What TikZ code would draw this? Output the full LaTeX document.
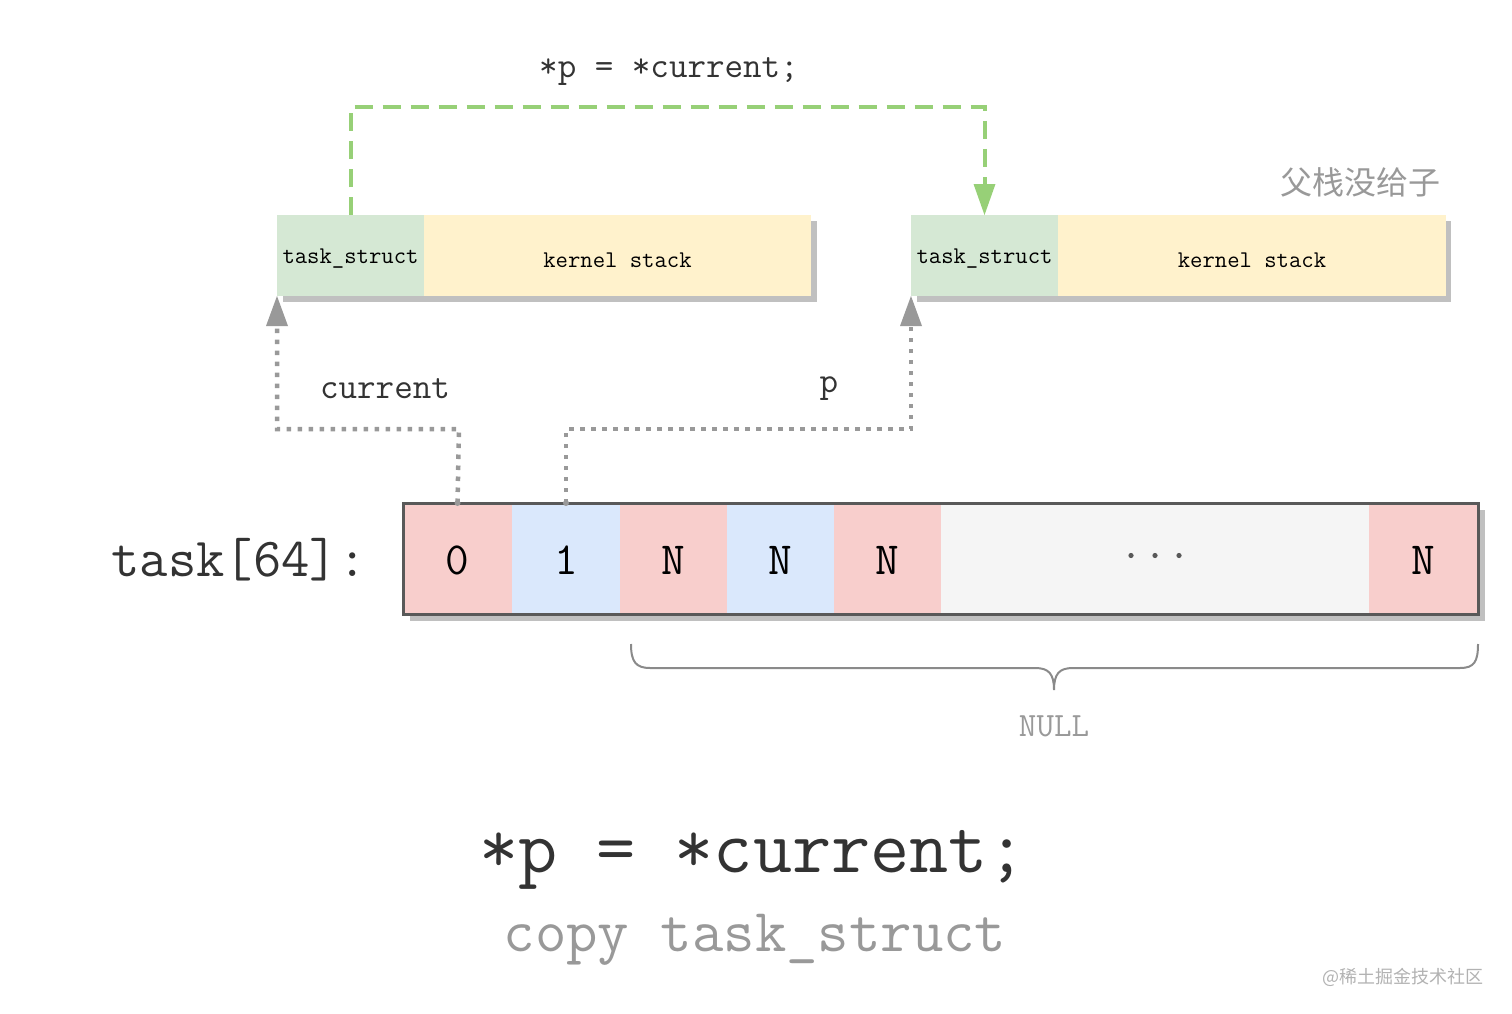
\documentclass[tikz,border=0pt]{standalone}
\usepackage{fontspec}
\setmainfont{Liberation Serif}
\newfontfamily\cjk{Noto Sans CJK SC}
\usetikzlibrary{arrows.meta}
\definecolor{tsgreen}{HTML}{D5E8D4}
\definecolor{ksyellow}{HTML}{FFF2CC}
\definecolor{cpink}{HTML}{F8CECC}
\definecolor{cblue}{HTML}{DAE8FC}
\definecolor{cgray}{HTML}{F5F5F5}
\definecolor{shad}{HTML}{C0C0C0}
\definecolor{arrgreen}{HTML}{97D077}
\definecolor{dotgray}{HTML}{999999}
\definecolor{txtdark}{HTML}{333333}
\definecolor{txtgray}{HTML}{999999}
\newcommand{\fs}[1]{\fontsize{#1}{#1}\selectfont}
\tikzset{
  cellbox/.style={draw=none, inner sep=0pt, outer sep=0pt, minimum height=#1},
  monotext/.style={font=\ttfamily\fs{24}, text=black},
  dotline/.style={draw=dotgray, line width=4.5pt, dash pattern=on 4.5pt off 6.5pt},
}
\begin{document}
\begin{tikzpicture}[x=1pt,y=-1pt]
\useasboundingbox (0,0) rectangle (1512,1014);
% ---------- top boxes ----------
\fill[shad] (283,221) rectangle (817,302);
\fill[shad] (917,221) rectangle (1451,302);
\node[cellbox=81pt, minimum width=147pt, fill=tsgreen, anchor=north west] (ts1) at (277,215) {};
\node[cellbox=81pt, minimum width=387pt, fill=ksyellow, anchor=north west] (ks1) at (424,215) {};
\node[cellbox=81pt, minimum width=147pt, fill=tsgreen, anchor=north west] (ts2) at (911,215) {};
\node[cellbox=81pt, minimum width=388pt, fill=ksyellow, anchor=north west] (ks2) at (1058,215) {};
\node[monotext] (ts1t) at ([yshift=-3pt]ts1.center) {task\_struct};
\node[monotext] (ks1t) at ([yshift=-5pt]ks1.center) {kernel stack};
\node[monotext] (ts2t) at ([yshift=-3pt]ts2.center) {task\_struct};
\node[monotext] (ks2t) at ([yshift=-5pt]ks2.center) {kernel stack};
% labels
\node[font=\ttfamily\fs{36}, text=txtdark] (lbl1) at (669,72) {*p = *current;};
\node[font=\cjk\fs{32}, text=txtgray] (lbl2) at (1360,182) {父栈没给子};
\node[font=\ttfamily\fs{36}, text=txtdark] (lblc) at (385,389) {current};
\node[font=\ttfamily\fs{36}, text=txtdark] (lblp) at (829,389) {p};
% ---------- array ----------
\fill[shad] (410,510) rectangle (1485,621);
\fill[white] (403,503) rectangle (1478,614);
\node[cellbox=108pt, minimum width=109pt, fill=cpink, anchor=north west] (c0) at (403,504.5) {};
\node[cellbox=108pt, minimum width=108pt, fill=cblue, anchor=north west] (c1) at (512,504.5) {};
\node[cellbox=108pt, minimum width=107pt, fill=cpink, anchor=north west] (c2) at (620,504.5) {};
\node[cellbox=108pt, minimum width=107pt, fill=cblue, anchor=north west] (c3) at (727,504.5) {};
\node[cellbox=108pt, minimum width=107pt, fill=cpink, anchor=north west] (c4) at (834,504.5) {};
\node[cellbox=108pt, minimum width=428pt, fill=cgray, anchor=north west] (c5) at (941,504.5) {};
\node[cellbox=108pt, minimum width=109pt, fill=cpink, anchor=north west] (c6) at (1369,504.5) {};
\foreach \c/\t in {c0/0,c1/1,c2/N,c3/N,c4/N,c6/N}
  \node[font=\ttfamily\fs{46}] (\c t) at ([yshift=-2pt]\c.center) {\t};
\foreach \dx in {-24,0,24} \fill[black!65] ([xshift=\dx pt, yshift=3pt]c5.center) circle (2.6pt);
\node[draw=black!65, line width=3pt, inner sep=0pt, outer sep=0pt, minimum width=1075pt, minimum height=111pt, anchor=north west] (arr) at (403,503) {};
\node[font=\ttfamily\fs{55}, text=txtdark] (tlbl) at (239,560) {task[64]:};
% ---------- dotted pointers ----------
\coordinate (cb) at (459,429);
\coordinate (pb) at (566,429);
\draw[dotline] (c0.north |- arr.north) -- (cb) -- (cb -| ts1.south west) -- ([yshift=-28pt]ts1.south west);
\draw[dotline] (c1.north |- arr.north) -- (pb) -- (pb -| ts2.south west) -- ([yshift=-28pt]ts2.south west);
\fill[dotgray] (ts1.south west) -- ++(-11,30) -- ++(22,0) -- cycle;
\fill[dotgray] (ts2.south west) -- ++(-11,30) -- ++(22,0) -- cycle;
\fill[dotgray] (c0.north |- arr.north) circle (3pt);
\fill[dotgray] (c1.north |- arr.north) circle (3pt);
% ---------- green copy arrow ----------
\coordinate (g1) at (350.5,107);
\draw[arrgreen, line width=4pt, dash pattern=on 18pt off 10pt]
  (ts1.north) -- (g1) -- (g1 -| ts2.north) -- ([yshift=28pt]ts2.north);
\fill[arrgreen] (ts2.north) -- ++(-11,-31) -- ++(22,0) -- cycle;
% ---------- brace ----------
\draw[dotgray!90!black, line width=2pt]
  (631,644) .. controls (631,662) and (636,668) .. (650,668)
  -- (1035,668) .. controls (1049,668) and (1054,674) .. (1054,690)
  (1054,690) .. controls (1054,674) and (1059,668) .. (1073,668)
  -- (1460,668) .. controls (1474,668) and (1478,662) .. (1478,644);
\node[font=\ttfamily\fs{34}, text=txtgray] (null) at (1054,726) {NULL};
% ---------- bottom text ----------
\node[font=\ttfamily\fs{76}, text=txtdark] (big) at (753,860) {*p = *current;};
\node[font=\ttfamily\fs{61}, text=txtgray] (copy) at (755,940) {copy task\_struct};
\node[font=\cjk\fs{18}, text=black!30, anchor=east] (wm) at (1487,977) {@稀土掘金技术社区};
\end{tikzpicture}
\end{document}
